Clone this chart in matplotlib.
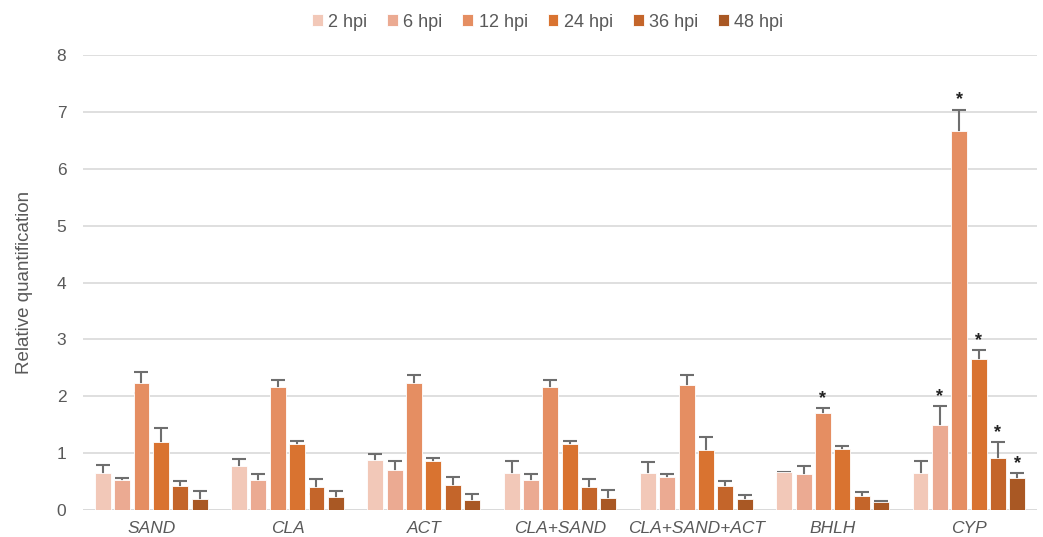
import matplotlib
matplotlib.use("Agg")
import matplotlib.pyplot as plt
import numpy as np

plt.rcParams['font.family'] = ['Liberation Sans', 'DejaVu Sans']

genes = ["SAND", "CLA", "ACT", "CLA+SAND", "CLA+SAND+ACT", "BHLH", "CYP"]
series = ["2 hpi", "6 hpi", "12 hpi", "24 hpi", "36 hpi", "48 hpi"]
colors = ["#F2C8B8", "#EBAA92", "#E58E62", "#D97330", "#C4652A", "#A95824"]

# values per series (one value per gene)
v_2 = [0.65, 0.78, 0.88, 0.65, 0.65, 0.66, 0.65]
v_6 = [0.52, 0.53, 0.71, 0.52, 0.58, 0.64, 1.49]
v_12 = [2.24, 2.17, 2.24, 2.16, 2.19, 1.71, 6.67]
v_24 = [1.19, 1.16, 0.87, 1.16, 1.06, 1.08, 2.66]
v_36 = [0.43, 0.41, 0.44, 0.41, 0.42, 0.25, 0.91]
v_48 = [0.20, 0.22, 0.17, 0.21, 0.20, 0.14, 0.56]

e_2 = [0.14, 0.11, 0.10, 0.21, 0.19, 0.01, 0.21]
e_6 = [0.05, 0.11, 0.15, 0.12, 0.05, 0.14, 0.34]
e_12 = [0.18, 0.12, 0.14, 0.12, 0.19, 0.08, 0.37]
e_24 = [0.25, 0.06, 0.04, 0.06, 0.22, 0.05, 0.15]
e_36 = [0.08, 0.13, 0.14, 0.13, 0.09, 0.07, 0.29]
e_48 = [0.14, 0.11, 0.12, 0.15, 0.07, 0.01, 0.09]

# significance marks (gene index, series index)
sig = [(5, 2), (6, 1), (6, 2), (6, 3), (6, 4), (6, 5)]

values = [v_2, v_6, v_12, v_24, v_36, v_48]
errors = [e_2, e_6, e_12, e_24, e_36, e_48]

fig = plt.figure(figsize=(10.43, 5.37), dpi=100)
ax = fig.add_axes([0.0796, 0.0503, 0.9147, 0.847])

x = np.arange(len(genes))
step = 0.142
width = 0.117
for i, (vals, errs) in enumerate(zip(values, errors)):
    pos = x + (i - 2.5) * step
    # symmetric error bar drawn beneath the bar so only the upper half shows
    ax.errorbar(pos, vals, yerr=errs, fmt='none',
                ecolor="#6E6E6E", elinewidth=1.5, capsize=5, capthick=1.5, zorder=2)
    ax.bar(pos, vals, width, color=colors[i], label=series[i], zorder=3,
           edgecolor='white', linewidth=0.6)
for g, s in sig:
    pos = x[g] + (s - 2.5) * step
    ax.text(pos, values[s][g] + errors[s][g] + 0.02, "*", ha='center', va='bottom',
            fontsize=13, fontweight='bold', color='#222222')

ax.set_xlim(-0.5, len(genes) - 0.5)
ax.set_ylim(0, 8)
ax.set_yticks(range(0, 9))
ax.yaxis.grid(True, color="#D9D9D9", linewidth=1.2, zorder=0)
ax.set_axisbelow(True)
for sp in ax.spines.values():
    sp.set_visible(False)
ax.axhline(0, color="#D9D9D9", linewidth=1.2, zorder=1)
ax.tick_params(axis='both', length=0, labelsize=12.5, labelcolor="#595959")
ax.tick_params(axis='y', pad=12)
ax.tick_params(axis='x', pad=8)
ax.set_xticks(x)
ax.set_xticklabels(genes, style='italic', fontsize=12.5)
ax.set_ylabel("Relative quantification", fontsize=13.5, color="#595959", labelpad=17)

leg = fig.legend(loc='upper center', bbox_to_anchor=(0.525, 1.005), ncol=6, frameon=False,
                 fontsize=13, handlelength=0.6, handleheight=0.6, handletextpad=0.3,
                 columnspacing=1.1)
for t in leg.get_texts():
    t.set_color("#595959")

fig.savefig("out.png", dpi=100)
